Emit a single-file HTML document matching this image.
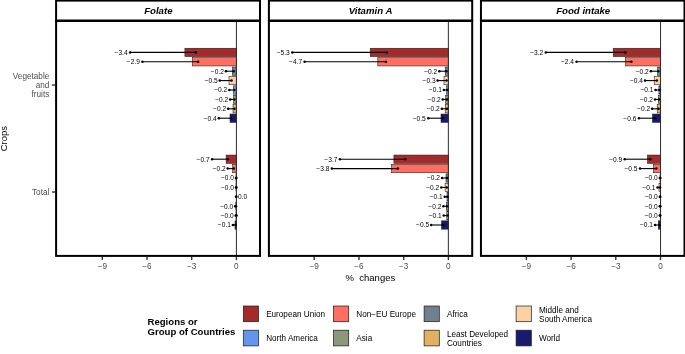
<!DOCTYPE html>
<html><head><meta charset="utf-8"><title>chart</title>
<style>
html,body{margin:0;padding:0;background:#fff;}
svg{display:block;will-change:transform;font-family:"Liberation Sans",sans-serif;}
</style></head><body>
<svg width="685" height="354" viewBox="0 0 685 354">
<rect x="0" y="0" width="685" height="354" fill="#fff"/>
<text transform="translate(7.3,138.6) rotate(-90)" text-anchor="middle" font-size="9.5" fill="#000">Crops</text>
<g font-size="8.2" fill="#4D4D4D" text-anchor="end">
<text x="49.3" y="79">Vegetable</text><text x="49.3" y="88">and</text><text x="49.3" y="96.6">fruits</text>
<text x="49.3" y="195">Total</text></g>
<g stroke="#333" stroke-width="1.4"><line x1="51.9" x2="55.2" y1="85.0" y2="85.0"/><line x1="51.9" x2="55.2" y1="192.0" y2="192.0"/></g>
<g>
<rect x="184.9" y="48.25" width="51.5" height="8.3" fill="#A52A2A" stroke="#1a1a1a" stroke-width="0.55"/>
<rect x="192.3" y="57.65" width="44.1" height="8.3" fill="#FF6F61" stroke="#1a1a1a" stroke-width="0.55"/>
<rect x="232.4" y="67.05" width="4.0" height="8.3" fill="#708090" stroke="#1a1a1a" stroke-width="0.55"/>
<rect x="229.0" y="76.45" width="7.4" height="8.3" fill="#FDD1A2" stroke="#1a1a1a" stroke-width="0.55"/>
<rect x="233.6" y="85.85" width="2.8" height="8.3" fill="#6495ED" stroke="#1a1a1a" stroke-width="0.55"/>
<rect x="233.7" y="95.25" width="2.7" height="8.3" fill="#8B987A" stroke="#1a1a1a" stroke-width="0.55"/>
<rect x="233.0" y="104.65" width="3.4" height="8.3" fill="#DFB160" stroke="#1a1a1a" stroke-width="0.55"/>
<rect x="230.0" y="114.05" width="6.4" height="8.3" fill="#191970" stroke="#1a1a1a" stroke-width="0.55"/>
<rect x="226.1" y="155.05" width="10.3" height="8.3" fill="#A52A2A" stroke="#1a1a1a" stroke-width="0.55"/>
<rect x="232.7" y="164.45" width="3.7" height="8.3" fill="#FF6F61" stroke="#1a1a1a" stroke-width="0.55"/>
<rect x="236.0" y="173.85" width="0.4" height="8.3" fill="#708090" stroke="#1a1a1a" stroke-width="0.55"/>
<rect x="236.0" y="183.25" width="0.4" height="8.3" fill="#FDD1A2" stroke="#1a1a1a" stroke-width="0.55"/>
<rect x="236.4" y="192.65" width="0.3" height="8.3" fill="#6495ED" stroke="#1a1a1a" stroke-width="0.55"/>
<rect x="235.8" y="202.05" width="0.6" height="8.3" fill="#8B987A" stroke="#1a1a1a" stroke-width="0.55"/>
<rect x="236.0" y="211.45" width="0.4" height="8.3" fill="#DFB160" stroke="#1a1a1a" stroke-width="0.55"/>
<rect x="235.0" y="220.85" width="1.4" height="8.3" fill="#191970" stroke="#1a1a1a" stroke-width="0.55"/>
<line x1="236.4" x2="236.4" y1="21.0" y2="255.9" stroke="#2a2a2a" stroke-width="1.0"/>
<line x1="130.1" x2="195.8" y1="52.40" y2="52.40" stroke="#000" stroke-width="1.1"/>
<circle cx="130.1" cy="52.40" r="1.25" fill="#000"/><circle cx="195.8" cy="52.40" r="1.25" fill="#000"/>
<text x="127.6" y="54.75" font-size="6.6" text-anchor="end" fill="#000">−3.4</text>
<line x1="142.4" x2="198.1" y1="61.80" y2="61.80" stroke="#000" stroke-width="1.1"/>
<circle cx="142.4" cy="61.80" r="1.25" fill="#000"/><circle cx="198.1" cy="61.80" r="1.25" fill="#000"/>
<text x="139.9" y="64.15" font-size="6.6" text-anchor="end" fill="#000">−2.9</text>
<line x1="225.9" x2="233.7" y1="71.20" y2="71.20" stroke="#000" stroke-width="1.1"/>
<circle cx="225.9" cy="71.20" r="1.25" fill="#000"/><circle cx="233.7" cy="71.20" r="1.25" fill="#000"/>
<text x="223.9" y="73.55" font-size="6.6" text-anchor="end" fill="#000">−0.2</text>
<line x1="219.7" x2="231.5" y1="80.60" y2="80.60" stroke="#000" stroke-width="1.1"/>
<circle cx="219.7" cy="80.60" r="1.25" fill="#000"/><circle cx="231.5" cy="80.60" r="1.25" fill="#000"/>
<text x="217.7" y="82.95" font-size="6.6" text-anchor="end" fill="#000">−0.5</text>
<line x1="229.3" x2="234.4" y1="90.00" y2="90.00" stroke="#000" stroke-width="1.1"/>
<circle cx="229.3" cy="90.00" r="1.25" fill="#000"/><circle cx="234.4" cy="90.00" r="1.25" fill="#000"/>
<text x="227.3" y="92.35" font-size="6.6" text-anchor="end" fill="#000">−0.2</text>
<line x1="230.2" x2="234.4" y1="99.40" y2="99.40" stroke="#000" stroke-width="1.1"/>
<circle cx="230.2" cy="99.40" r="1.25" fill="#000"/><circle cx="234.4" cy="99.40" r="1.25" fill="#000"/>
<text x="228.2" y="101.75" font-size="6.6" text-anchor="end" fill="#000">−0.2</text>
<line x1="228.1" x2="234.5" y1="108.80" y2="108.80" stroke="#000" stroke-width="1.1"/>
<circle cx="228.1" cy="108.80" r="1.25" fill="#000"/><circle cx="234.5" cy="108.80" r="1.25" fill="#000"/>
<text x="226.1" y="111.15" font-size="6.6" text-anchor="end" fill="#000">−0.2</text>
<line x1="218.8" x2="231.0" y1="118.20" y2="118.20" stroke="#000" stroke-width="1.1"/>
<circle cx="218.8" cy="118.20" r="1.25" fill="#000"/><circle cx="231.0" cy="118.20" r="1.25" fill="#000"/>
<text x="216.8" y="120.55" font-size="6.6" text-anchor="end" fill="#000">−0.4</text>
<line x1="212.1" x2="227.9" y1="159.20" y2="159.20" stroke="#000" stroke-width="1.1"/>
<circle cx="212.1" cy="159.20" r="1.25" fill="#000"/><circle cx="227.9" cy="159.20" r="1.25" fill="#000"/>
<text x="209.6" y="161.55" font-size="6.6" text-anchor="end" fill="#000">−0.7</text>
<line x1="227.7" x2="233.8" y1="168.60" y2="168.60" stroke="#000" stroke-width="1.1"/>
<circle cx="227.7" cy="168.60" r="1.25" fill="#000"/><circle cx="233.8" cy="168.60" r="1.25" fill="#000"/>
<text x="225.7" y="170.95" font-size="6.6" text-anchor="end" fill="#000">−0.2</text>
<line x1="236.0" x2="236.4" y1="178.00" y2="178.00" stroke="#000" stroke-width="1.1"/>
<circle cx="236.0" cy="178.00" r="1.25" fill="#000"/><circle cx="236.4" cy="178.00" r="1.25" fill="#000"/>
<text x="234.0" y="180.35" font-size="6.6" text-anchor="end" fill="#000">−0.0</text>
<line x1="236.0" x2="236.4" y1="187.40" y2="187.40" stroke="#000" stroke-width="1.1"/>
<circle cx="236.0" cy="187.40" r="1.25" fill="#000"/><circle cx="236.4" cy="187.40" r="1.25" fill="#000"/>
<text x="234.0" y="189.75" font-size="6.6" text-anchor="end" fill="#000">−0.0</text>
<line x1="236.0" x2="236.4" y1="196.80" y2="196.80" stroke="#000" stroke-width="1.1"/>
<circle cx="236.0" cy="196.80" r="1.25" fill="#000"/><circle cx="236.4" cy="196.80" r="1.25" fill="#000"/>
<text x="237.9" y="199.15" font-size="6.6" text-anchor="start" fill="#000">0.0</text>
<line x1="235.2" x2="236.0" y1="206.20" y2="206.20" stroke="#000" stroke-width="1.1"/>
<circle cx="235.2" cy="206.20" r="1.25" fill="#000"/><circle cx="236.0" cy="206.20" r="1.25" fill="#000"/>
<text x="233.2" y="208.55" font-size="6.6" text-anchor="end" fill="#000">−0.0</text>
<line x1="235.7" x2="236.6" y1="215.60" y2="215.60" stroke="#000" stroke-width="1.1"/>
<circle cx="235.7" cy="215.60" r="1.25" fill="#000"/><circle cx="236.6" cy="215.60" r="1.25" fill="#000"/>
<text x="233.7" y="217.95" font-size="6.6" text-anchor="end" fill="#000">−0.0</text>
<line x1="232.9" x2="235.6" y1="225.00" y2="225.00" stroke="#000" stroke-width="1.1"/>
<circle cx="232.9" cy="225.00" r="1.25" fill="#000"/><circle cx="235.6" cy="225.00" r="1.25" fill="#000"/>
<text x="230.9" y="227.35" font-size="6.6" text-anchor="end" fill="#000">−0.1</text>
<rect x="56.1" y="21.0" width="203.9" height="234.9" fill="none" stroke="#000" stroke-width="2.0"/>
<rect x="56.1" y="0.6" width="203.9" height="19.9" fill="#fff" stroke="#000" stroke-width="2.0"/>
<text x="158.35" y="13.9" font-size="9.65" font-weight="bold" font-style="italic" text-anchor="middle" fill="#000">Folate</text>
<line x1="102.3" x2="102.3" y1="256.9" y2="260.1" stroke="#333" stroke-width="1.4"/>
<text x="102.3" y="269" font-size="8.2" text-anchor="middle" fill="#4D4D4D">−9</text>
<line x1="147.0" x2="147.0" y1="256.9" y2="260.1" stroke="#333" stroke-width="1.4"/>
<text x="147.0" y="269" font-size="8.2" text-anchor="middle" fill="#4D4D4D">−6</text>
<line x1="191.7" x2="191.7" y1="256.9" y2="260.1" stroke="#333" stroke-width="1.4"/>
<text x="191.7" y="269" font-size="8.2" text-anchor="middle" fill="#4D4D4D">−3</text>
<line x1="236.4" x2="236.4" y1="256.9" y2="260.1" stroke="#333" stroke-width="1.4"/>
<text x="236.4" y="269" font-size="8.2" text-anchor="middle" fill="#4D4D4D">0</text>
</g>
<g>
<rect x="370.2" y="48.25" width="78.2" height="8.3" fill="#A52A2A" stroke="#1a1a1a" stroke-width="0.55"/>
<rect x="377.8" y="57.65" width="70.6" height="8.3" fill="#FF6F61" stroke="#1a1a1a" stroke-width="0.55"/>
<rect x="445.2" y="67.05" width="3.2" height="8.3" fill="#708090" stroke="#1a1a1a" stroke-width="0.55"/>
<rect x="444.0" y="76.45" width="4.4" height="8.3" fill="#FDD1A2" stroke="#1a1a1a" stroke-width="0.55"/>
<rect x="446.6" y="85.85" width="1.8" height="8.3" fill="#6495ED" stroke="#1a1a1a" stroke-width="0.55"/>
<rect x="445.7" y="95.25" width="2.7" height="8.3" fill="#8B987A" stroke="#1a1a1a" stroke-width="0.55"/>
<rect x="445.2" y="104.65" width="3.2" height="8.3" fill="#DFB160" stroke="#1a1a1a" stroke-width="0.55"/>
<rect x="441.0" y="114.05" width="7.4" height="8.3" fill="#191970" stroke="#1a1a1a" stroke-width="0.55"/>
<rect x="393.9" y="155.05" width="54.5" height="8.3" fill="#A52A2A" stroke="#1a1a1a" stroke-width="0.55"/>
<rect x="391.5" y="164.45" width="56.9" height="8.3" fill="#FF6F61" stroke="#1a1a1a" stroke-width="0.55"/>
<rect x="446.0" y="173.85" width="2.4" height="8.3" fill="#708090" stroke="#1a1a1a" stroke-width="0.55"/>
<rect x="445.1" y="183.25" width="3.2" height="8.3" fill="#FDD1A2" stroke="#1a1a1a" stroke-width="0.55"/>
<rect x="447.0" y="192.65" width="1.4" height="8.3" fill="#6495ED" stroke="#1a1a1a" stroke-width="0.55"/>
<rect x="446.3" y="202.05" width="2.1" height="8.3" fill="#8B987A" stroke="#1a1a1a" stroke-width="0.55"/>
<rect x="446.8" y="211.45" width="1.6" height="8.3" fill="#DFB160" stroke="#1a1a1a" stroke-width="0.55"/>
<rect x="441.6" y="220.85" width="6.8" height="8.3" fill="#191970" stroke="#1a1a1a" stroke-width="0.55"/>
<line x1="448.35" x2="448.35" y1="21.0" y2="255.9" stroke="#2a2a2a" stroke-width="1.0"/>
<line x1="292.3" x2="386.6" y1="52.40" y2="52.40" stroke="#000" stroke-width="1.1"/>
<circle cx="292.3" cy="52.40" r="1.25" fill="#000"/><circle cx="386.6" cy="52.40" r="1.25" fill="#000"/>
<text x="289.8" y="54.75" font-size="6.6" text-anchor="end" fill="#000">−5.3</text>
<line x1="304.6" x2="386.0" y1="61.80" y2="61.80" stroke="#000" stroke-width="1.1"/>
<circle cx="304.6" cy="61.80" r="1.25" fill="#000"/><circle cx="386.0" cy="61.80" r="1.25" fill="#000"/>
<text x="302.1" y="64.15" font-size="6.6" text-anchor="end" fill="#000">−4.7</text>
<line x1="439.3" x2="446.4" y1="71.20" y2="71.20" stroke="#000" stroke-width="1.1"/>
<circle cx="439.3" cy="71.20" r="1.25" fill="#000"/><circle cx="446.4" cy="71.20" r="1.25" fill="#000"/>
<text x="437.3" y="73.55" font-size="6.6" text-anchor="end" fill="#000">−0.2</text>
<line x1="437.6" x2="446.6" y1="80.60" y2="80.60" stroke="#000" stroke-width="1.1"/>
<circle cx="437.6" cy="80.60" r="1.25" fill="#000"/><circle cx="446.6" cy="80.60" r="1.25" fill="#000"/>
<text x="435.6" y="82.95" font-size="6.6" text-anchor="end" fill="#000">−0.3</text>
<line x1="443.9" x2="447.2" y1="90.00" y2="90.00" stroke="#000" stroke-width="1.1"/>
<circle cx="443.9" cy="90.00" r="1.25" fill="#000"/><circle cx="447.2" cy="90.00" r="1.25" fill="#000"/>
<text x="441.9" y="92.35" font-size="6.6" text-anchor="end" fill="#000">−0.1</text>
<line x1="442.7" x2="447.0" y1="99.40" y2="99.40" stroke="#000" stroke-width="1.1"/>
<circle cx="442.7" cy="99.40" r="1.25" fill="#000"/><circle cx="447.0" cy="99.40" r="1.25" fill="#000"/>
<text x="440.7" y="101.75" font-size="6.6" text-anchor="end" fill="#000">−0.2</text>
<line x1="441.8" x2="447.0" y1="108.80" y2="108.80" stroke="#000" stroke-width="1.1"/>
<circle cx="441.8" cy="108.80" r="1.25" fill="#000"/><circle cx="447.0" cy="108.80" r="1.25" fill="#000"/>
<text x="439.8" y="111.15" font-size="6.6" text-anchor="end" fill="#000">−0.2</text>
<line x1="428.3" x2="442.7" y1="118.20" y2="118.20" stroke="#000" stroke-width="1.1"/>
<circle cx="428.3" cy="118.20" r="1.25" fill="#000"/><circle cx="442.7" cy="118.20" r="1.25" fill="#000"/>
<text x="425.8" y="120.55" font-size="6.6" text-anchor="end" fill="#000">−0.5</text>
<line x1="339.9" x2="405.2" y1="159.20" y2="159.20" stroke="#000" stroke-width="1.1"/>
<circle cx="339.9" cy="159.20" r="1.25" fill="#000"/><circle cx="405.2" cy="159.20" r="1.25" fill="#000"/>
<text x="337.4" y="161.55" font-size="6.6" text-anchor="end" fill="#000">−3.7</text>
<line x1="331.9" x2="397.9" y1="168.60" y2="168.60" stroke="#000" stroke-width="1.1"/>
<circle cx="331.9" cy="168.60" r="1.25" fill="#000"/><circle cx="397.9" cy="168.60" r="1.25" fill="#000"/>
<text x="329.4" y="170.95" font-size="6.6" text-anchor="end" fill="#000">−3.8</text>
<line x1="442.0" x2="447.0" y1="178.00" y2="178.00" stroke="#000" stroke-width="1.1"/>
<circle cx="442.0" cy="178.00" r="1.25" fill="#000"/><circle cx="447.0" cy="178.00" r="1.25" fill="#000"/>
<text x="440.0" y="180.35" font-size="6.6" text-anchor="end" fill="#000">−0.2</text>
<line x1="441.3" x2="446.8" y1="187.40" y2="187.40" stroke="#000" stroke-width="1.1"/>
<circle cx="441.3" cy="187.40" r="1.25" fill="#000"/><circle cx="446.8" cy="187.40" r="1.25" fill="#000"/>
<text x="439.3" y="189.75" font-size="6.6" text-anchor="end" fill="#000">−0.2</text>
<line x1="444.7" x2="447.5" y1="196.80" y2="196.80" stroke="#000" stroke-width="1.1"/>
<circle cx="444.7" cy="196.80" r="1.25" fill="#000"/><circle cx="447.5" cy="196.80" r="1.25" fill="#000"/>
<text x="442.7" y="199.15" font-size="6.6" text-anchor="end" fill="#000">−0.1</text>
<line x1="443.4" x2="447.0" y1="206.20" y2="206.20" stroke="#000" stroke-width="1.1"/>
<circle cx="443.4" cy="206.20" r="1.25" fill="#000"/><circle cx="447.0" cy="206.20" r="1.25" fill="#000"/>
<text x="441.4" y="208.55" font-size="6.6" text-anchor="end" fill="#000">−0.2</text>
<line x1="443.7" x2="447.5" y1="215.60" y2="215.60" stroke="#000" stroke-width="1.1"/>
<circle cx="443.7" cy="215.60" r="1.25" fill="#000"/><circle cx="447.5" cy="215.60" r="1.25" fill="#000"/>
<text x="441.7" y="217.95" font-size="6.6" text-anchor="end" fill="#000">−0.1</text>
<line x1="431.1" x2="443.3" y1="225.00" y2="225.00" stroke="#000" stroke-width="1.1"/>
<circle cx="431.1" cy="225.00" r="1.25" fill="#000"/><circle cx="443.3" cy="225.00" r="1.25" fill="#000"/>
<text x="429.1" y="227.35" font-size="6.6" text-anchor="end" fill="#000">−0.5</text>
<rect x="268.9" y="21.0" width="203.3" height="234.9" fill="none" stroke="#000" stroke-width="2.0"/>
<rect x="268.9" y="0.6" width="203.3" height="19.9" fill="#fff" stroke="#000" stroke-width="2.0"/>
<text x="370.5" y="13.9" font-size="9.65" font-weight="bold" font-style="italic" text-anchor="middle" fill="#000">Vitamin A</text>
<line x1="314.2" x2="314.2" y1="256.9" y2="260.1" stroke="#333" stroke-width="1.4"/>
<text x="314.2" y="269" font-size="8.2" text-anchor="middle" fill="#4D4D4D">−9</text>
<line x1="359.0" x2="359.0" y1="256.9" y2="260.1" stroke="#333" stroke-width="1.4"/>
<text x="359.0" y="269" font-size="8.2" text-anchor="middle" fill="#4D4D4D">−6</text>
<line x1="403.7" x2="403.7" y1="256.9" y2="260.1" stroke="#333" stroke-width="1.4"/>
<text x="403.7" y="269" font-size="8.2" text-anchor="middle" fill="#4D4D4D">−3</text>
<line x1="448.4" x2="448.4" y1="256.9" y2="260.1" stroke="#333" stroke-width="1.4"/>
<text x="448.4" y="269" font-size="8.2" text-anchor="middle" fill="#4D4D4D">0</text>
</g>
<g>
<rect x="613.2" y="48.25" width="47.3" height="8.3" fill="#A52A2A" stroke="#1a1a1a" stroke-width="0.55"/>
<rect x="625.4" y="57.65" width="35.1" height="8.3" fill="#FF6F61" stroke="#1a1a1a" stroke-width="0.55"/>
<rect x="657.7" y="67.05" width="2.8" height="8.3" fill="#708090" stroke="#1a1a1a" stroke-width="0.55"/>
<rect x="654.2" y="76.45" width="6.3" height="8.3" fill="#FDD1A2" stroke="#1a1a1a" stroke-width="0.55"/>
<rect x="658.9" y="85.85" width="1.6" height="8.3" fill="#6495ED" stroke="#1a1a1a" stroke-width="0.55"/>
<rect x="658.4" y="95.25" width="2.1" height="8.3" fill="#8B987A" stroke="#1a1a1a" stroke-width="0.55"/>
<rect x="657.2" y="104.65" width="3.3" height="8.3" fill="#DFB160" stroke="#1a1a1a" stroke-width="0.55"/>
<rect x="652.5" y="114.05" width="8.0" height="8.3" fill="#191970" stroke="#1a1a1a" stroke-width="0.55"/>
<rect x="647.5" y="155.05" width="13.0" height="8.3" fill="#A52A2A" stroke="#1a1a1a" stroke-width="0.55"/>
<rect x="653.3" y="164.45" width="7.2" height="8.3" fill="#FF6F61" stroke="#1a1a1a" stroke-width="0.55"/>
<rect x="660.0" y="173.85" width="0.5" height="8.3" fill="#708090" stroke="#1a1a1a" stroke-width="0.55"/>
<rect x="659.0" y="183.25" width="1.5" height="8.3" fill="#FDD1A2" stroke="#1a1a1a" stroke-width="0.55"/>
<rect x="660.2" y="192.65" width="0.3" height="8.3" fill="#6495ED" stroke="#1a1a1a" stroke-width="0.55"/>
<rect x="660.2" y="202.05" width="0.3" height="8.3" fill="#8B987A" stroke="#1a1a1a" stroke-width="0.55"/>
<rect x="660.2" y="211.45" width="0.3" height="8.3" fill="#DFB160" stroke="#1a1a1a" stroke-width="0.55"/>
<rect x="658.3" y="220.85" width="2.2" height="8.3" fill="#191970" stroke="#1a1a1a" stroke-width="0.55"/>
<line x1="660.55" x2="660.55" y1="21.0" y2="255.9" stroke="#2a2a2a" stroke-width="1.0"/>
<line x1="545.8" x2="625.4" y1="52.40" y2="52.40" stroke="#000" stroke-width="1.1"/>
<circle cx="545.8" cy="52.40" r="1.25" fill="#000"/><circle cx="625.4" cy="52.40" r="1.25" fill="#000"/>
<text x="543.3" y="54.75" font-size="6.6" text-anchor="end" fill="#000">−3.2</text>
<line x1="576.5" x2="631.4" y1="61.80" y2="61.80" stroke="#000" stroke-width="1.1"/>
<circle cx="576.5" cy="61.80" r="1.25" fill="#000"/><circle cx="631.4" cy="61.80" r="1.25" fill="#000"/>
<text x="574.0" y="64.15" font-size="6.6" text-anchor="end" fill="#000">−2.4</text>
<line x1="650.8" x2="658.4" y1="71.20" y2="71.20" stroke="#000" stroke-width="1.1"/>
<circle cx="650.8" cy="71.20" r="1.25" fill="#000"/><circle cx="658.4" cy="71.20" r="1.25" fill="#000"/>
<text x="648.8" y="73.55" font-size="6.6" text-anchor="end" fill="#000">−0.2</text>
<line x1="645.0" x2="656.9" y1="80.60" y2="80.60" stroke="#000" stroke-width="1.1"/>
<circle cx="645.0" cy="80.60" r="1.25" fill="#000"/><circle cx="656.9" cy="80.60" r="1.25" fill="#000"/>
<text x="643.0" y="82.95" font-size="6.6" text-anchor="end" fill="#000">−0.4</text>
<line x1="655.5" x2="659.5" y1="90.00" y2="90.00" stroke="#000" stroke-width="1.1"/>
<circle cx="655.5" cy="90.00" r="1.25" fill="#000"/><circle cx="659.5" cy="90.00" r="1.25" fill="#000"/>
<text x="653.5" y="92.35" font-size="6.6" text-anchor="end" fill="#000">−0.1</text>
<line x1="655.0" x2="659.0" y1="99.40" y2="99.40" stroke="#000" stroke-width="1.1"/>
<circle cx="655.0" cy="99.40" r="1.25" fill="#000"/><circle cx="659.0" cy="99.40" r="1.25" fill="#000"/>
<text x="653.0" y="101.75" font-size="6.6" text-anchor="end" fill="#000">−0.2</text>
<line x1="652.1" x2="658.6" y1="108.80" y2="108.80" stroke="#000" stroke-width="1.1"/>
<circle cx="652.1" cy="108.80" r="1.25" fill="#000"/><circle cx="658.6" cy="108.80" r="1.25" fill="#000"/>
<text x="650.1" y="111.15" font-size="6.6" text-anchor="end" fill="#000">−0.2</text>
<line x1="638.9" x2="655.2" y1="118.20" y2="118.20" stroke="#000" stroke-width="1.1"/>
<circle cx="638.9" cy="118.20" r="1.25" fill="#000"/><circle cx="655.2" cy="118.20" r="1.25" fill="#000"/>
<text x="636.4" y="120.55" font-size="6.6" text-anchor="end" fill="#000">−0.6</text>
<line x1="624.7" x2="650.3" y1="159.20" y2="159.20" stroke="#000" stroke-width="1.1"/>
<circle cx="624.7" cy="159.20" r="1.25" fill="#000"/><circle cx="650.3" cy="159.20" r="1.25" fill="#000"/>
<text x="622.2" y="161.55" font-size="6.6" text-anchor="end" fill="#000">−0.9</text>
<line x1="640.0" x2="656.3" y1="168.60" y2="168.60" stroke="#000" stroke-width="1.1"/>
<circle cx="640.0" cy="168.60" r="1.25" fill="#000"/><circle cx="656.3" cy="168.60" r="1.25" fill="#000"/>
<text x="637.5" y="170.95" font-size="6.6" text-anchor="end" fill="#000">−0.5</text>
<line x1="659.8" x2="660.3" y1="178.00" y2="178.00" stroke="#000" stroke-width="1.1"/>
<circle cx="659.8" cy="178.00" r="1.25" fill="#000"/><circle cx="660.3" cy="178.00" r="1.25" fill="#000"/>
<text x="657.8" y="180.35" font-size="6.6" text-anchor="end" fill="#000">−0.0</text>
<line x1="657.5" x2="660.0" y1="187.40" y2="187.40" stroke="#000" stroke-width="1.1"/>
<circle cx="657.5" cy="187.40" r="1.25" fill="#000"/><circle cx="660.0" cy="187.40" r="1.25" fill="#000"/>
<text x="655.5" y="189.75" font-size="6.6" text-anchor="end" fill="#000">−0.1</text>
<line x1="659.8" x2="660.3" y1="196.80" y2="196.80" stroke="#000" stroke-width="1.1"/>
<circle cx="659.8" cy="196.80" r="1.25" fill="#000"/><circle cx="660.3" cy="196.80" r="1.25" fill="#000"/>
<text x="657.8" y="199.15" font-size="6.6" text-anchor="end" fill="#000">−0.0</text>
<line x1="659.8" x2="660.3" y1="206.20" y2="206.20" stroke="#000" stroke-width="1.1"/>
<circle cx="659.8" cy="206.20" r="1.25" fill="#000"/><circle cx="660.3" cy="206.20" r="1.25" fill="#000"/>
<text x="657.8" y="208.55" font-size="6.6" text-anchor="end" fill="#000">−0.0</text>
<line x1="659.8" x2="660.3" y1="215.60" y2="215.60" stroke="#000" stroke-width="1.1"/>
<circle cx="659.8" cy="215.60" r="1.25" fill="#000"/><circle cx="660.3" cy="215.60" r="1.25" fill="#000"/>
<text x="657.8" y="217.95" font-size="6.6" text-anchor="end" fill="#000">−0.0</text>
<line x1="655.0" x2="659.6" y1="225.00" y2="225.00" stroke="#000" stroke-width="1.1"/>
<circle cx="655.0" cy="225.00" r="1.25" fill="#000"/><circle cx="659.6" cy="225.00" r="1.25" fill="#000"/>
<text x="653.0" y="227.35" font-size="6.6" text-anchor="end" fill="#000">−0.1</text>
<rect x="480.95" y="21.0" width="203.55" height="234.9" fill="none" stroke="#000" stroke-width="2.0"/>
<rect x="480.95" y="0.6" width="203.55" height="19.9" fill="#fff" stroke="#000" stroke-width="2.0"/>
<text x="583.2" y="13.9" font-size="9.65" font-weight="bold" font-style="italic" text-anchor="middle" fill="#000">Food intake</text>
<line x1="526.4" x2="526.4" y1="256.9" y2="260.1" stroke="#333" stroke-width="1.4"/>
<text x="526.4" y="269" font-size="8.2" text-anchor="middle" fill="#4D4D4D">−9</text>
<line x1="571.1" x2="571.1" y1="256.9" y2="260.1" stroke="#333" stroke-width="1.4"/>
<text x="571.1" y="269" font-size="8.2" text-anchor="middle" fill="#4D4D4D">−6</text>
<line x1="615.8" x2="615.8" y1="256.9" y2="260.1" stroke="#333" stroke-width="1.4"/>
<text x="615.8" y="269" font-size="8.2" text-anchor="middle" fill="#4D4D4D">−3</text>
<line x1="660.5" x2="660.5" y1="256.9" y2="260.1" stroke="#333" stroke-width="1.4"/>
<text x="660.5" y="269" font-size="8.2" text-anchor="middle" fill="#4D4D4D">0</text>
</g>
<text x="370.4" y="280.9" font-size="9.5" text-anchor="middle" fill="#000" xml:space="preserve">%  changes</text>
<g font-size="9.6" font-weight="bold" fill="#000"><text x="147.5" y="324.7">Regions or</text><text x="147.5" y="334.9">Group of Countries</text></g>
<g font-size="8.17" fill="#000">
<rect x="243.3" y="306.0" width="15.2" height="15.7" fill="#A52A2A" stroke="#1a1a1a" stroke-width="0.7"/>
<text x="266.15" y="317.00">European Union</text>
<rect x="333.5" y="306.0" width="15.2" height="15.7" fill="#FF6F61" stroke="#1a1a1a" stroke-width="0.7"/>
<text x="356.35" y="317.00">Non−EU Europe</text>
<rect x="424.1" y="306.0" width="15.2" height="15.7" fill="#708090" stroke="#1a1a1a" stroke-width="0.7"/>
<text x="446.95" y="317.00">Africa</text>
<rect x="516.1" y="306.0" width="15.2" height="15.7" fill="#FDD1A2" stroke="#1a1a1a" stroke-width="0.7"/>
<text x="538.95" y="312.60">Middle and</text><text x="538.95" y="321.60">South America</text>
<rect x="243.3" y="330.2" width="15.2" height="15.7" fill="#6495ED" stroke="#1a1a1a" stroke-width="0.7"/>
<text x="266.15" y="341.10">North America</text>
<rect x="333.5" y="330.2" width="15.2" height="15.7" fill="#8B987A" stroke="#1a1a1a" stroke-width="0.7"/>
<text x="356.35" y="341.10">Asia</text>
<rect x="424.1" y="330.2" width="15.2" height="15.7" fill="#DFB160" stroke="#1a1a1a" stroke-width="0.7"/>
<text x="446.95" y="336.70">Least Developed</text><text x="446.95" y="345.70">Countries</text>
<rect x="516.1" y="330.2" width="15.2" height="15.7" fill="#191970" stroke="#1a1a1a" stroke-width="0.7"/>
<text x="538.95" y="341.10">World</text>
</g>
</svg></body></html>
